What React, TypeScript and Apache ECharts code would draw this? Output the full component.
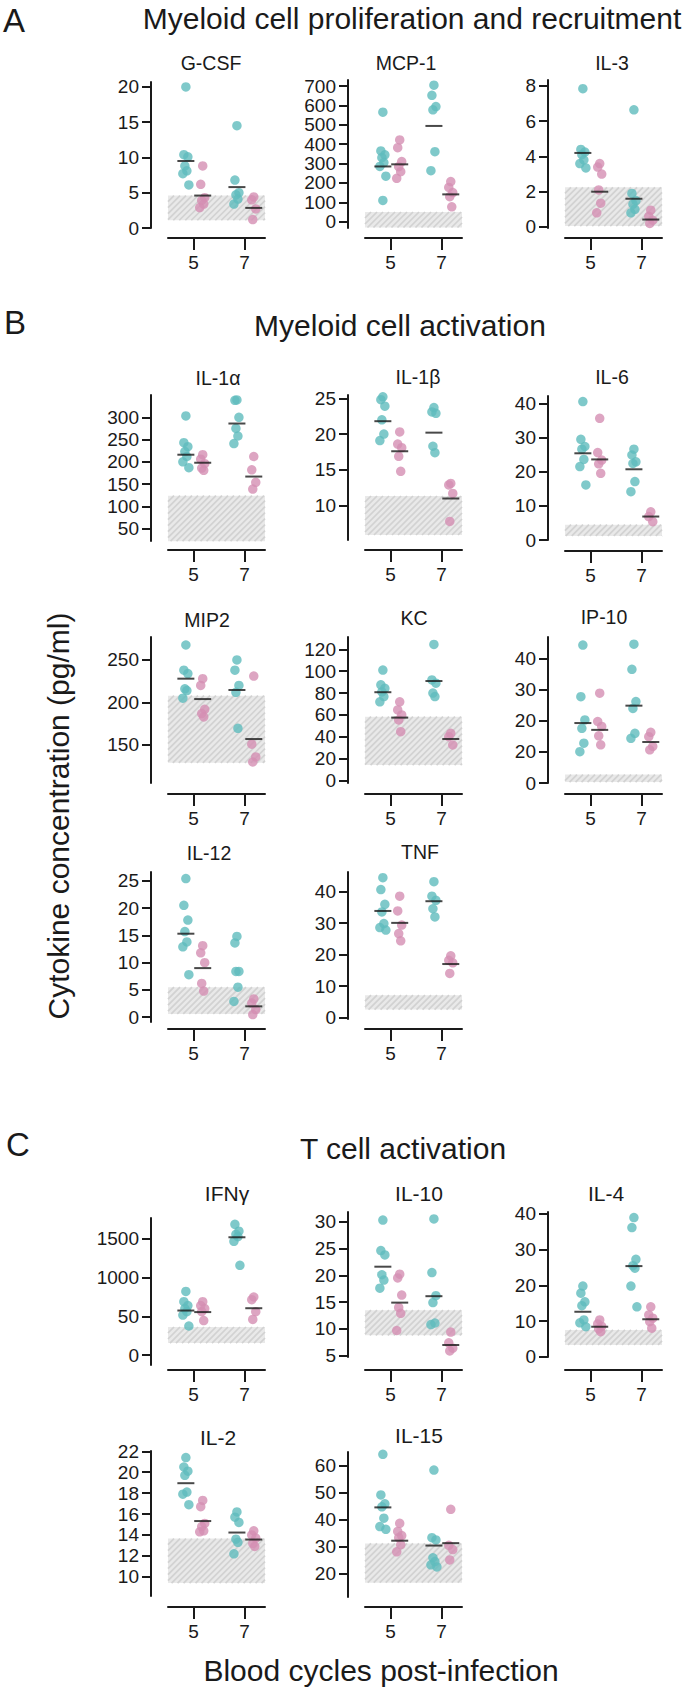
import React, { useEffect, useRef } from "react";
import * as echarts from "echarts";

// ---------------- data ----------------
const DAYS = [5, 7];

const GCSF = {
  name: "G-CSF",
  teal5: [20.0, 10.4, 10.1, 8.8, 8.1, 7.7, 6.1],
  pink5: [8.8, 6.2, 4.3, 3.9, 3.4, 2.9],
  teal7: [14.5, 6.8, 5.0, 4.7, 4.1, 3.4],
  pink7: [4.4, 4.0, 2.7, 1.2],
  medians: [9.5, 4.6, 5.8, 2.85],
  control: [1.1, 4.6],
  ticks: [0, 5, 10, 15, 20],
};
const MCP1 = {
  name: "MCP-1",
  teal5: [565, 365, 345, 330, 305, 285, 235, 110],
  pink5: [422, 382, 310, 284, 258, 224],
  teal7: [704, 652, 594, 577, 361, 263],
  pink7: [207, 177, 150, 129, 77],
  medians: [285, 296, 494, 141],
  control: [-30, 50],
  ticks: [0, 100, 200, 300, 400, 500, 600, 700],
};
const IL3 = {
  name: "IL-3",
  teal5: [7.85, 4.4, 4.25, 4.1, 3.8, 3.6, 3.35],
  pink5: [3.6, 3.4, 3.0, 2.1, 1.35, 0.8],
  teal7: [6.65, 1.9, 1.5, 1.3, 1.0, 0.8],
  pink7: [0.95, 0.6, 0.38, 0.2],
  medians: [4.2, 2.0, 1.6, 0.42],
  control: [0.05, 2.25],
  ticks: [0, 2, 4, 6, 8],
};
const IL1A = {
  name: "IL-1α",
  teal5: [303, 243, 234, 223, 212, 200, 187],
  pink5: [216, 206, 196, 186, 181],
  teal7: [339, 338, 300, 275, 258, 241],
  pink7: [212, 182, 154, 139],
  medians: [216, 198, 286, 167],
  control: [22, 124],
  ticks: [50, 100, 150, 200, 250, 300],
};
const IL1B = {
  name: "IL-1β",
  teal5: [25.2, 24.8, 23.9, 22.0, 20.0, 19.1],
  pink5: [20.3, 18.6, 18.1, 16.9, 14.8],
  teal7: [23.7, 23.1, 22.9, 18.3, 17.4],
  pink7: [13.1, 12.9, 11.7, 7.8],
  medians: [21.8, 17.6, 20.2, 11.0],
  control: [5.9, 11.35],
  ticks: [10, 15, 20, 25],
};
const IL6 = {
  name: "IL-6",
  teal5: [40.7, 29.6, 27.5, 26.7, 23.7, 21.6, 16.2],
  pink5: [35.8, 25.7, 23.5, 22.4, 19.6],
  teal7: [26.7, 25.0, 23.0, 22.5, 17.2, 14.2],
  pink7: [8.3, 6.9, 5.4],
  medians: [25.5, 23.7, 20.8, 6.9],
  control: [1.2, 4.5],
  ticks: [0, 10, 20, 30, 40],
};
const MIP2 = {
  name: "MIP2",
  teal5: [267.6, 238, 234, 216, 214, 205],
  pink5: [228, 220, 192, 187, 183],
  teal7: [250, 238, 220, 212, 169.6],
  pink7: [231, 151, 136, 130],
  medians: [228, 204, 214.7, 157],
  control: [129, 208],
  ticks: [150, 200, 250],
};
const KC = {
  name: "KC",
  teal5: [101, 87.5, 84.4, 81, 76.8, 72],
  pink5: [72, 64.6, 60, 55.5, 44.8],
  teal7: [124.4, 92, 89, 80, 76.8],
  pink7: [43.3, 40.2, 32.6],
  medians: [80.8, 57.6, 91, 38.1],
  control: [14.3, 58.5],
  ticks: [0, 20, 40, 60, 80, 100, 120],
};
const IP10 = {
  name: "IP-10",
  teal5: [44.4, 27.8, 20.3, 17.6, 12.8, 10.1],
  pink5: [28.9, 19.8, 18.2, 15.2, 12.3],
  teal7: [44.7, 36.6, 26.2, 24.0, 16.0, 14.4],
  pink7: [16.3, 14.9, 11.8, 10.7],
  medians: [19.3, 17.1, 24.9, 13.2],
  control: [0.3, 2.7],
  ticks: [0, 10, 20, 30, 40],
  tickLabels: ["0", "20", "20", "30", "40"],
};
const IL12 = {
  name: "IL-12",
  teal5: [25.4, 20.5, 17.8, 15.7, 13.8, 12.9, 7.8],
  pink5: [13.1, 11.8, 10.0, 6.2, 4.8],
  teal7: [14.8, 13.6, 8.4, 8.4, 5.5, 2.9],
  pink7: [3.35, 2.6, 1.4, 0.5],
  medians: [15.3, 9.0, null, 2.0],
  control: [0.6, 5.5],
  ticks: [0, 5, 10, 15, 20, 25],
};
const TNF = {
  name: "TNF",
  teal5: [44.5, 40.7, 36.0, 33.6, 29.9, 28.6, 27.8],
  pink5: [38.6, 33.9, 29.4, 26.7, 24.4],
  teal7: [43.2, 38.6, 37.3, 34.6, 32.0],
  pink7: [19.6, 18.2, 17.4, 14.0],
  medians: [33.9, 30.1, 37.0, 17.0],
  control: [2.5, 7.1],
  ticks: [0, 10, 20, 30, 40],
};
const IFNG = {
  name: "IFNγ",
  teal5: [822, 690, 640, 600, 560, 517, 375],
  pink5: [690, 640, 600, 560, 445],
  teal7: [1780, 1690, 1600, 1560, 1530, 1470, 1160],
  pink7: [750, 715, 560, 460],
  medians: [575, 555, 1522, 605],
  control: [155, 362],
  ticks: [0, 500, 1000, 1500],
  tickLabels: ["0", "50", "1000", "1500"],
};
const IL10 = {
  name: "IL-10",
  teal5: [30.3, 24.6, 23.8, 20.1, 19.1, 17.6],
  pink5: [20.2, 19.5, 16.3, 14.0, 12.9, 9.7],
  teal7: [30.5, 20.5, 16.2, 14.9, 11.1, 10.8],
  pink7: [9.4, 7.4, 6.4, 5.9],
  medians: [21.6, 14.9, 16.1, 7.0],
  control: [8.8, 13.5],
  ticks: [5, 10, 15, 20, 25, 30],
};
const IL4 = {
  name: "IL-4",
  teal5: [19.8, 17.8, 15.4, 14.3, 10.3, 9.5, 8.4],
  pink5: [10.3, 9.2, 8.5, 7.8, 7.0],
  teal7: [39.0, 36.2, 27.3, 25.5, 24.8, 19.8, 14.0],
  pink7: [14.0, 11.7, 10.8, 9.8, 8.0],
  medians: [12.6, 8.4, 25.4, 10.5],
  control: [3.3, 7.5],
  ticks: [0, 10, 20, 30, 40],
};
const IL2 = {
  name: "IL-2",
  teal5: [21.4, 20.5, 20.1, 19.7, 18.1, 17.9, 16.9],
  pink5: [17.3, 16.7, 15.1, 14.8, 14.4, 14.3],
  teal7: [16.2, 15.7, 15.2, 13.6, 13.3, 12.2],
  pink7: [14.4, 14.0, 13.7, 13.2, 12.9],
  medians: [18.95, 15.33, 14.23, 13.56],
  control: [9.4, 13.65],
  ticks: [10, 12, 14, 16, 18, 20, 22],
};
const IL15 = {
  name: "IL-15",
  teal5: [64.2, 49.2, 45.9, 44.8, 40.6, 37.5, 36.5],
  pink5: [38.7, 35.7, 34.2, 33.4, 30.8, 28.2],
  teal7: [58.4, 33.4, 32.6, 26.0, 24.6, 23.4, 22.6],
  pink7: [43.9, 30.6, 29.0, 25.2],
  medians: [44.6, 32.3, 30.5, 31.4],
  control: [16.8, 31.3],
  ticks: [20, 30, 40, 50, 60],
};

const SECTIONS = [
  { letter: "A", title: "Myeloid cell proliferation and recruitment" },
  { letter: "B", title: "Myeloid cell activation" },
  { letter: "C", title: "T cell activation" },
];
const Y_TITLE = "Cytokine concentration (pg/ml)";
const X_TITLE = "Blood cycles post-infection";

// ---------------- layout & style ----------------
const TEAL = "#5fbcbd";
const PINK = "#d48eb3";
const INK = "#1a1a1a";
const HATCH_BG = "#e9e9e9";
const HATCH_FG = "#d2d2d2";
const FONT = '"Liberation Sans", Arial, Helvetica, sans-serif';
const COL_LEFT = [168, 365, 565];
const PLOT_W = 97;
const X_MIN = 4;
const X_MAX = 7.8;
const DODGE_L = 0.3;
const DODGE_R = 0.36;
const JITTER = [0, -2, 2, -1, 1, -3, 3, 0];
const TICK_FS = 19;
const DOT = 9.5;

const PANELS = [
  { d: GCSF, col: 0, top: 82, bottom: 228, min: 0, max: 20.7, xLine: 238, tx: 211, ty: 63, fs: 19.5 },
  { d: MCP1, col: 1, top: 80, bottom: 228, min: -32.5, max: 731, xLine: 238, tx: 406, ty: 63, fs: 19.5 },
  { d: IL3, col: 2, top: 80, bottom: 228, min: -0.06, max: 8.34, xLine: 238, tx: 612, ty: 63, fs: 19.5 },
  { d: IL1A, col: 0, top: 395, bottom: 541, min: 22.4, max: 350, xLine: 550, tx: 218, ty: 378, fs: 19.5 },
  { d: IL1B, col: 1, top: 395, bottom: 540, min: 5.2, max: 25.46, xLine: 550, tx: 418, ty: 377, fs: 19.5 },
  { d: IL6, col: 2, top: 396, bottom: 540, min: 0, max: 42.35, xLine: 551, tx: 612, ty: 377, fs: 19.5 },
  { d: MIP2, col: 0, top: 637, bottom: 783, min: 105.3, max: 277, xLine: 794, tx: 207, ty: 620, fs: 19.5 },
  { d: KC, col: 1, top: 637, bottom: 783, min: -2.1, max: 131.2, xLine: 794, tx: 414, ty: 618, fs: 19.5 },
  { d: IP10, col: 2, top: 637, bottom: 783, min: 0, max: 47, xLine: 794, tx: 604, ty: 617, fs: 19.5 },
  { d: IL12, col: 0, top: 872, bottom: 1022, min: -0.87, max: 26.6, xLine: 1029, tx: 209, ty: 853, fs: 19.5 },
  { d: TNF, col: 1, top: 872, bottom: 1019, min: -0.5, max: 46.3, xLine: 1029, tx: 420, ty: 852, fs: 19.5 },
  { d: IFNG, col: 0, top: 1218, bottom: 1365, min: -129, max: 1771, xLine: 1370, tx: 227, ty: 1193, fs: 21 },
  { d: IL10, col: 1, top: 1212, bottom: 1357, min: 4.76, max: 31.8, xLine: 1370, tx: 419, ty: 1193, fs: 21 },
  { d: IL4, col: 2, top: 1212, bottom: 1357, min: -0.08, max: 40.56, xLine: 1370, tx: 606, ty: 1193, fs: 21 },
  { d: IL2, col: 0, top: 1451, bottom: 1596, min: 8.16, max: 22.03, xLine: 1607, tx: 218, ty: 1437, fs: 21 },
  { d: IL15, col: 1, top: 1452, bottom: 1597, min: 11.5, max: 65.06, xLine: 1607, tx: 419, ty: 1435, fs: 21 },
];

const SECTION_POS = [
  { lx: 3, ly: 20, tx: 412, ty: 18 },
  { lx: 4, ly: 322, tx: 400, ty: 325 },
  { lx: 6, ly: 1144, tx: 403, ty: 1148 },
];

function hatchItem(params: any, api: any) {
  const cs = params.coordSys;
  const lo = api.value(0);
  const hi = api.value(1);
  const yTop = api.coord([X_MIN, hi])[1];
  const yBot = api.coord([X_MIN, lo])[1];
  const x0 = cs.x;
  const w = cs.width;
  const h = yBot - yTop;
  const children: any[] = [
    { type: "rect", shape: { x: x0, y: yTop, width: w, height: h }, style: { fill: HATCH_BG } },
  ];
  const gap = 6;
  for (let k = -h; k < w; k += gap) {
    const t0 = Math.max(0, -k);
    const t1 = Math.min(h, w - k);
    if (t1 > t0) {
      children.push({
        type: "line",
        shape: { x1: x0 + k + t0, y1: yBot - t0, x2: x0 + k + t1, y2: yBot - t1 },
        style: { stroke: HATCH_FG, lineWidth: 1.7 },
      });
    }
  }
  return { type: "group", children };
}

function dots(vals5: number[], vals7: number[], off: number) {
  const out: any[] = [];
  vals5.forEach((v, i) => out.push({ value: [DAYS[0] + off, v], symbolOffset: [JITTER[i % JITTER.length], 0] }));
  vals7.forEach((v, i) => out.push({ value: [DAYS[1] + off, v], symbolOffset: [JITTER[i % JITTER.length], 0] }));
  return out;
}

function textEl(x: number, y: number, text: string, fontSize: number, align: string, rotation = 0) {
  return {
    type: "text",
    x,
    y,
    rotation,
    style: {
      text,
      fontSize,
      fontFamily: FONT,
      fill: INK,
      align,
      verticalAlign: "middle",
      textAlign: align,
      textVerticalAlign: "middle",
    },
  };
}

function buildOption() {
  const grid: any[] = [];
  const xAxis: any[] = [];
  const yAxis: any[] = [];
  const series: any[] = [];
  const graphic: any[] = [];

  PANELS.forEach((p, i) => {
    const d: any = p.d;
    grid.push({
      left: COL_LEFT[p.col],
      top: p.top,
      width: PLOT_W,
      height: p.bottom - p.top,
      containLabel: false,
      outerBoundsMode: "none",
    });
    xAxis.push({
      gridIndex: i,
      type: "value",
      min: X_MIN,
      max: X_MAX,
      position: "bottom",
      offset: p.xLine - p.bottom,
      axisLine: { show: true, onZero: false, lineStyle: { color: INK, width: 2 } },
      axisTick: { show: true, customValues: DAYS, length: 12, lineStyle: { color: INK, width: 2 } },
      axisLabel: { show: true, customValues: DAYS, margin: 15, fontSize: TICK_FS, color: INK, fontFamily: FONT },
      splitLine: { show: false },
    });
    const ticks: number[] = d.ticks;
    const labels: string[] | undefined = d.tickLabels;
    yAxis.push({
      gridIndex: i,
      type: "value",
      min: p.min,
      max: p.max,
      position: "left",
      offset: 17,
      axisLine: { show: true, onZero: false, lineStyle: { color: INK, width: 2 } },
      axisTick: { show: true, customValues: ticks, length: 9, lineStyle: { color: INK, width: 2 } },
      axisLabel: {
        show: true,
        customValues: ticks,
        margin: 12,
        fontSize: TICK_FS,
        color: INK,
        fontFamily: FONT,
        formatter: (v: number) => {
          const idx = ticks.findIndex((t) => Math.abs(t - v) < 1e-6);
          return labels && idx >= 0 ? labels[idx] : String(v);
        },
      },
      splitLine: { show: false },
    });
    series.push({
      type: "custom",
      xAxisIndex: i,
      yAxisIndex: i,
      silent: true,
      z: 1,
      renderItem: hatchItem,
      data: [d.control],
    });
    series.push({
      type: "scatter",
      xAxisIndex: i,
      yAxisIndex: i,
      symbol: "circle",
      symbolSize: DOT,
      z: 2,
      itemStyle: { color: TEAL },
      data: dots(d.teal5, d.teal7, -DODGE_L),
    });
    series.push({
      type: "scatter",
      xAxisIndex: i,
      yAxisIndex: i,
      symbol: "circle",
      symbolSize: DOT,
      z: 2,
      itemStyle: { color: PINK },
      data: dots(d.pink5, d.pink7, DODGE_R),
    });
    const medX = [DAYS[0] - DODGE_L, DAYS[0] + DODGE_R, DAYS[1] - DODGE_L, DAYS[1] + DODGE_R];
    series.push({
      type: "scatter",
      xAxisIndex: i,
      yAxisIndex: i,
      symbol: "rect",
      symbolSize: [17, 2],
      z: 3,
      itemStyle: { color: INK },
      data: d.medians
        .map((m: number | null, k: number) => (m == null ? null : [medX[k], m]))
        .filter((x: any) => x),
    });
    graphic.push(textEl(p.tx, p.ty, d.name, p.fs, "center"));
  });

  SECTIONS.forEach((s, i) => {
    const pos = SECTION_POS[i];
    graphic.push(textEl(pos.lx, pos.ly, s.letter, 33, "left"));
    graphic.push(textEl(pos.tx, pos.ty, s.title, 30, "center"));
  });

  graphic.push(textEl(58, 816, Y_TITLE, 30, "center", Math.PI / 2));
  graphic.push(textEl(381, 1670, X_TITLE, 30, "center"));

  return {
    animation: false,
    backgroundColor: "#ffffff",
    textStyle: { fontFamily: FONT },
    grid,
    xAxis,
    yAxis,
    series,
    graphic,
  };
}

export default function App() {
  const ref = useRef<HTMLDivElement>(null);
  useEffect(() => {
    if (!ref.current) return;
    const chart = echarts.init(ref.current, null, { renderer: "svg" });
    chart.setOption(buildOption() as any);
    return () => chart.dispose();
  }, []);
  return (
    <div
      ref={ref}
      style={{ position: "absolute", left: 0, top: 0, width: 689, height: 1690, background: "#fff" }}
    />
  );
}
